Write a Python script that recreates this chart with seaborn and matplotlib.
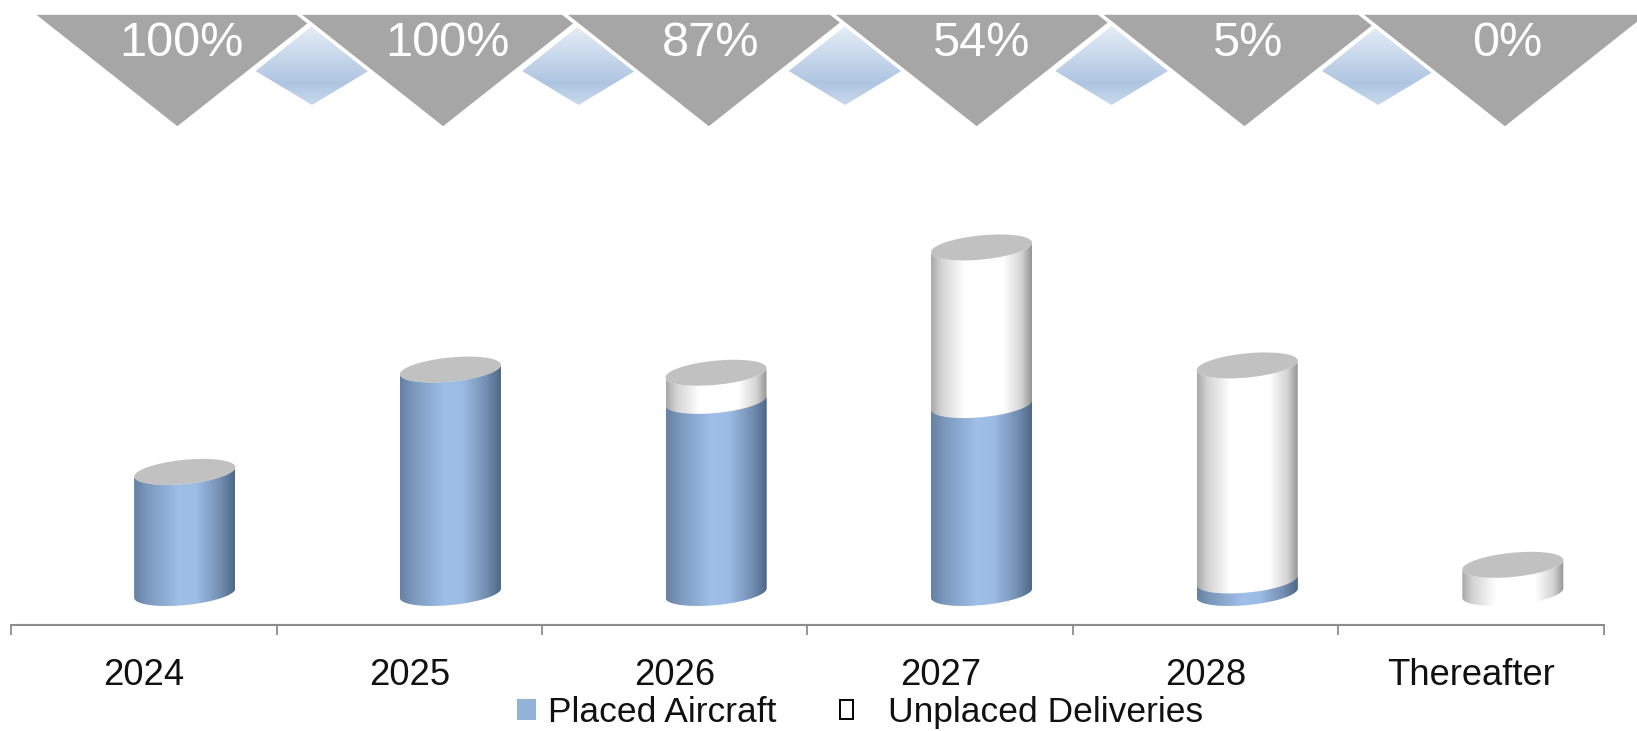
import numpy as np
import pandas as pd
import matplotlib
matplotlib.use("Agg")
import matplotlib.pyplot as plt
import seaborn as sns
from matplotlib.colors import LinearSegmentedColormap
from matplotlib.patches import Polygon, Patch

categories = ["2024", "2025", "2026", "2027", "2028", "Thereafter"]
placed = [58, 107, 92, 90, 6, 0]
unplaced = [0, 0, 13.5, 75.5, 103, 13.5]
percent_labels = ["100%", "100%", "87%", "54%", "5%", "0%"]

W, H = 1637, 731
sns.set_theme(style="white")
plt.rcParams["font.family"] = ["Liberation Sans", "DejaVu Sans"]

FS = 26.2
PX_PER_CAT = 265.6
PX_PER_UNIT = 2.088
AXIS_ROW = 624.5
BASE_ROW = 593.0

fig = plt.figure(figsize=(W / 100, H / 100), dpi=100)
ax = fig.add_axes([0, 1 - AXIS_ROW / H, 1, AXIS_ROW / H])
ax.patch.set_alpha(0)

df = pd.DataFrame({"category": categories, "placed": placed, "unplaced": unplaced})
df["total"] = df["placed"] + df["unplaced"]

BAR_W = 101 / PX_PER_CAT
sns.barplot(data=df, x="category", y="total", order=categories, color="white",
            width=BAR_W, saturation=1, ax=ax, linewidth=0)
n_total = len(ax.patches)
sns.barplot(data=df, x="category", y="placed", order=categories, color="#94b3d9",
            width=BAR_W, saturation=1, ax=ax, linewidth=0)

x0 = -184.8 / PX_PER_CAT
x_lim = (x0, x0 + W / PX_PER_CAT)
y_lim = (-(AXIS_ROW - BASE_ROW) / PX_PER_UNIT, BASE_ROW / PX_PER_UNIT)

blue_cm = LinearSegmentedColormap.from_list("blue", [(0, "#6480a2"), (0.12, "#7a97bb"), (0.45, "#9fbfe8"),
                                                     (0.62, "#9dbce4"), (0.85, "#7490b4"), (1, "#4e6887")])
white_cm = LinearSegmentedColormap.from_list("white", [(0, "#a8a8a8"), (0.1, "#d2d2d2"), (0.33, "#ffffff"),
                                                       (0.72, "#ffffff"), (0.9, "#d2d2d2"), (1, "#949494")])
ramp = np.linspace(0, 1, 256)[None, :]

SLOPE = 0.093
B_PX = 12.1


def curve(cx, w, y, t):
    """Sheared ellipse points for a cylinder face centred on (cx, y)."""
    a = w / 2
    xs = cx + a * np.cos(t)
    ys = y + (B_PX * np.sin(t) + SLOPE * (a * PX_PER_CAT) * np.cos(t)) / PX_PER_UNIT
    return np.column_stack([xs, ys])


lower = np.linspace(np.pi, 2 * np.pi, 60)
full = np.linspace(0, 2 * np.pi, 120)

for idx, bar in enumerate(ax.patches):
    h = bar.get_height()
    if h <= 0:
        bar.set_visible(False)
        continue
    x, w = bar.get_x(), bar.get_width()
    cx = x + w / 2
    pts = np.vstack([curve(cx, w, 0, lower), curve(cx, w, h, lower)[::-1]])
    shape = Polygon(pts, closed=True, transform=ax.transData)
    bar.set_clip_path(shape)
    cm = white_cm if idx < n_total else blue_cm
    im = ax.imshow(ramp, cmap=cm, aspect="auto", extent=(x, x + w, pts[:, 1].min(), pts[:, 1].max()),
                   interpolation="bilinear", zorder=2 + (idx >= n_total))
    im.set_clip_path(shape)

for idx, bar in enumerate(ax.patches[:n_total]):
    cx = bar.get_x() + bar.get_width() / 2
    ax.add_patch(Polygon(curve(cx, bar.get_width(), bar.get_height(), full), closed=True,
                         facecolor="#c1c1c1", edgecolor="none", zorder=5))

ax.set_xlim(x_lim)
ax.set_ylim(y_lim)
ax.set_xlabel("")
ax.set_ylabel("")
ax.set_yticks([])
for s in ["top", "left", "right"]:
    ax.spines[s].set_visible(False)

LEFT = -0.653
RIGHT = 5.342
ax.spines["bottom"].set_bounds(LEFT, RIGHT)
ax.spines["bottom"].set_color("#8c8c8c")
ax.spines["bottom"].set_linewidth(1.5)
ax.set_xticks(LEFT + np.arange(len(categories) + 1) * (RIGHT - LEFT) / len(categories))
ax.set_xticklabels([])
ax.tick_params(axis="x", which="major", length=7.5, width=1.3, color="#8c8c8c", bottom=True)
ax.set_xticks(LEFT + (np.arange(len(categories)) + 0.5) * (RIGHT - LEFT) / len(categories), minor=True)
ax.set_xticklabels(categories, minor=True, fontsize=FS, color="#111111")
ax.tick_params(axis="x", which="minor", length=0, pad=24.2)

# Chevron band, sharing the x scale of the bars
TOP_ROWS = 150
top = fig.add_axes([0, 1 - TOP_ROWS / H, 1, TOP_ROWS / H])
top.set_xlim(x_lim)
top.set_ylim(TOP_ROWS, 0)
top.axis("off")
top.patch.set_alpha(0)

STEP = 1.0035
dia_cm = LinearSegmentedColormap.from_list("dia", [(0, "#e6edf6"), (0.72, "#aec5e1"), (1, "#c9d9ec")])
vramp = np.linspace(0, 1, 256)[:, None]
for i in range(len(categories) - 1):
    c = i * STEP + 0.479
    hw = 0.212
    rows = (26, 71, 105)
    poly = Polygon([(c, rows[0]), (c + hw, rows[1]), (c, rows[2]), (c - hw, rows[1])],
                   closed=True, transform=top.transData)
    im = top.imshow(vramp, cmap=dia_cm, aspect="auto", extent=(c - hw, c + hw, rows[2], rows[0]),
                    interpolation="bilinear", zorder=1)
    im.set_clip_path(poly)

# Small per-chevron nudges (in category units) seen in the hand-placed original shapes
apex_nudge = [-0.028, -0.028, -0.028, -0.02, -0.012, -0.032]
text_nudge = [-0.012, -0.012, -0.02, -0.004, 0.0, -0.02]
for i, label in enumerate(percent_labels):
    c = i * STEP + apex_nudge[i] - 0.003 * i
    hw = 0.55
    top.add_patch(Polygon([(c - hw, 13), (c + hw, 13), (c, 128.5)], closed=True, facecolor="#a6a6a6",
                          edgecolor="white", linewidth=2.6, joinstyle="miter", zorder=2 + i * 0.01))
    top.text(i + text_nudge[i], 43, label, ha="center", va="center", color="white", fontsize=35, zorder=4)
top.set_xlim(x_lim)
top.set_ylim(TOP_ROWS, 0)

LEG_Y = 1 - 712.5 / H
leg_kw = dict(loc="center left", ncol=1, frameon=False, fontsize=FS - 0.7, labelcolor="#111111",
              borderpad=0, borderaxespad=0)
fig.legend(handles=[Patch(facecolor="#94b3d9", edgecolor="none", label="Placed Aircraft")],
           bbox_to_anchor=(517 / W, LEG_Y), handlelength=0.55, handleheight=0.55, handletextpad=0.32, **leg_kw)
fig.legend(handles=[Patch(facecolor="white", edgecolor="black", linewidth=1.4, label="Unplaced Deliveries")],
           bbox_to_anchor=(840 / W, LEG_Y), handlelength=0.36, handleheight=0.42, handletextpad=1.0, **leg_kw)

fig.savefig("out.png", dpi=100)
